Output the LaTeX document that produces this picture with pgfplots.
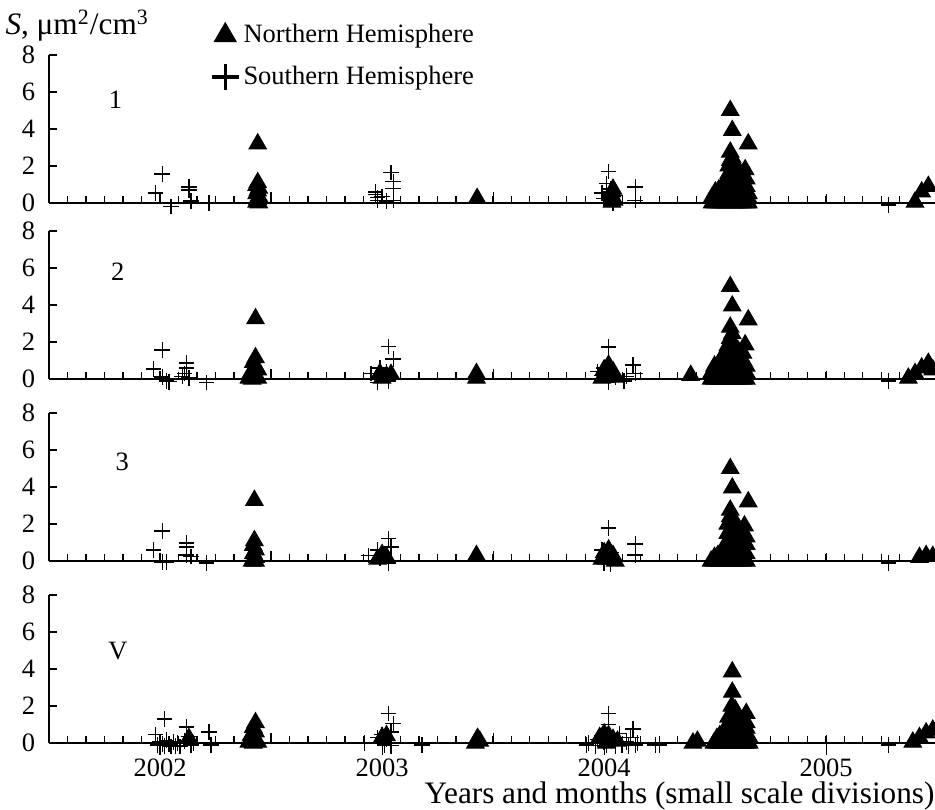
\documentclass[border=0pt]{standalone}
\usepackage{fontspec}
\setmainfont{Liberation Serif}
\usepackage{pgfplots}
\pgfplotsset{compat=1.18}
\newcommand{\tickfont}{\fontsize{10.6}{12.7}\selectfont}
\newcommand{\labfont}{\fontsize{12.5}{15}\selectfont}
\pgfplotsset{
 panel/.style={
  width=354.4pt, height=59.2pt, scale only axis,
  xmin=2001.5, xmax=2005.49, ymin=0, ymax=8,
  axis x line=bottom, axis y line=left,
  axis line style={-, line width=0.5pt},
  clip=false,
  xtick={2002,2003,2004,2005}, xticklabels={},
  minor xtick={2001.58333,2001.66667,...,2005.45},
  extra x ticks={2002.5,2003.5,2004.5}, extra x tick labels={},
  extra x tick style={major tick length=4.2pt},
  ytick={0,2,4,6,8},
  tick align=inside,
  major tick length=3.4pt, minor tick length=2.8pt,
  tick style={black, line width=0.45pt},
  yticklabel style={font=\tickfont, xshift=-2pt},
  xticklabel style={font=\tickfont, inner sep=0pt, yshift=-6pt},
  /pgf/number format/assume math mode=true,
 },
 nh/.style={only marks, mark=triangle*, mark size=4pt, black, forget plot},
 sh/.style={only marks, mark=+, mark size=3.1pt, black, line width=0.55pt, forget plot},
}
\begin{document}
\begin{tikzpicture}[x=1pt,y=1pt]
% ---------------- panel 1
\begin{axis}[panel, name=a1, at={(0pt,0pt)}, anchor=south west,
  legend style={at={(axis description cs:0,1)}, anchor=north west, xshift=62pt, yshift=18.4pt,
    draw=none, fill=none, font=\tickfont, nodes={inner ysep=3.9pt}},
  legend cell align=left]
\addplot[nh] coordinates {
(2002.44,3.2) (2002.44,1.1) (2002.435,0.95) (2002.445,0.8) (2002.44,0.65) (2002.435,0.5)
(2002.445,0.35) (2002.44,0.2) (2002.435,0.05) (2002.445,0.0)
(2003.428,0.25)
(2004.04,0.75) (2004.035,0.6) (2004.03,0.45) (2004.04,0.3) (2004.045,0.15) (2004.035,0.05)
(2004.486,0.0) (2004.486,0.3)
(2004.501,0.0) (2004.501,0.3) (2004.501,0.6)
(2004.516,0.0) (2004.516,0.35) (2004.516,0.7)
(2004.531,0.0) (2004.531,0.25) (2004.531,0.5)
(2004.546,0.0) (2004.546,0.4) (2004.546,0.8) (2004.546,1.2)
(2004.561,0.0) (2004.561,0.4) (2004.561,0.8) (2004.561,1.2) (2004.561,1.6) (2004.561,2.0)
(2004.568,2.3) (2004.568,2.75) (2004.568,5.0)
(2004.577,0.0) (2004.577,0.5) (2004.577,1.0) (2004.577,1.5) (2004.577,1.9) (2004.577,2.45) (2004.577,3.92)
(2004.590,0.0) (2004.590,0.4) (2004.590,0.8) (2004.590,1.2) (2004.590,1.6) (2004.590,2.1)
(2004.605,0.0) (2004.605,0.4) (2004.605,0.8) (2004.605,1.2) (2004.605,1.5)
(2004.622,0.0) (2004.622,0.5) (2004.622,1.0) (2004.622,1.4) (2004.635,1.8)
(2004.649,3.2)
(2004.640,0.0) (2004.640,0.4) (2004.640,0.9) (2004.640,1.3)
(2004.650,0.0) (2004.650,0.25) (2004.650,0.5)
(2005.40,0.05) (2005.43,0.6) (2005.46,0.9)
};
\addplot[sh] coordinates {
(2001.98,0.55) (2002.01,1.57) (2002.05,-0.2) (2002.13,0.86) (2002.13,0.70) (2002.14,0.1) (2002.22,0.0)
(2002.97,0.6) (2002.97,0.45) (2002.98,0.30) (2003.00,0.35) (2002.98,0.15)
(2003.04,1.65) (2003.05,1.15) (2003.05,0.80) (2003.05,0.15) (2003.02,0.1)
(2004.02,1.70) (2004.01,1.05) (2003.99,0.55) (2004.03,0.75) (2004.05,0.40) (2004.00,0.25) (2004.04,0.0)
(2004.14,0.86) (2004.14,0.15)
(2005.28,-0.1)
};
\addlegendimage{only marks, mark=triangle*, mark size=5pt, black}
\addlegendentry{Northern Hemisphere}
\addlegendimage{only marks, mark=+, mark size=5.3pt, black, line width=1.3pt, mark options={line width=1.3pt}}
\addlegendentry{Southern Hemisphere}
\node[font=\tickfont] at (axis cs:2001.80,5.57) {1};
\node[font=\labfont, anchor=base west, inner sep=0pt, xshift=-17.6pt, yshift=8pt] at (axis description cs:0,1)
  {\textit{S}, μm\textsuperscript{2}/cm\textsuperscript{3}};
\end{axis}
% ---------------- panel 2
\begin{axis}[panel, name=a2, at={(0pt,-70.4pt)}, anchor=south west]
\addplot[nh] coordinates {
(2002.43,3.26) (2002.43,1.15) (2002.42,0.9) (2002.43,0.7) (2002.44,0.5) (2002.41,0.35) (2002.43,0.25)
(2002.40,0.05) (2002.415,0.0) (2002.44,0.05)
(2002.99,0.3) (2003.02,0.15) (2003.04,0.25) (2003.00,0.05)
(2003.425,0.05) (2003.425,0.3)
(2004.00,0.5) (2004.02,0.75) (2004.04,0.4) (2004.01,0.2) (2004.05,0.1) (2003.99,0.05)
(2004.39,0.2)
(2004.482,0.0) (2004.482,0.3)
(2004.497,0.0) (2004.497,0.35) (2004.497,0.7)
(2004.512,0.0) (2004.512,0.3) (2004.512,0.6)
(2004.527,0.0) (2004.527,0.4) (2004.527,0.8)
(2004.542,0.0) (2004.542,0.5) (2004.542,1.0) (2004.542,1.4)
(2004.557,0.0) (2004.557,0.45) (2004.557,0.9) (2004.557,1.35) (2004.557,1.8)
(2004.568,2.2) (2004.568,2.8) (2004.568,5.0)
(2004.577,2.45) (2004.577,3.95)
(2004.575,0.0) (2004.575,0.5) (2004.575,1.0) (2004.575,1.5) (2004.575,2.0)
(2004.590,0.0) (2004.590,0.4) (2004.590,0.8) (2004.590,1.2) (2004.590,1.6)
(2004.605,0.0) (2004.605,0.4) (2004.605,0.8) (2004.605,1.2) (2004.605,1.5)
(2004.625,0.0) (2004.625,0.5) (2004.625,1.0) (2004.625,1.4) (2004.635,1.85)
(2004.649,3.2)
(2004.640,0.0) (2004.640,0.35) (2004.640,0.7)
(2005.37,0.05) (2005.40,0.3) (2005.43,0.6) (2005.46,0.85) (2005.48,0.5)
};
\addplot[sh] coordinates {
(2001.97,0.54) (2002.01,1.57) (2002.01,0.1) (2002.03,-0.1) (2002.04,-0.15)
(2002.12,0.86) (2002.12,0.6) (2002.11,0.3) (2002.10,0.15) (2002.13,0.05) (2002.21,-0.2)
(2002.95,0.3) (2002.99,0.6) (2003.03,1.75) (2003.05,1.08) (2003.02,0.4) (2003.00,0.2) (2002.98,-0.2) (2003.03,-0.1)
(2004.02,1.73) (2004.00,0.6) (2003.97,0.4) (2003.99,0.2) (2004.03,0.3) (2004.05,0.1)
(2004.13,0.76) (2004.14,0.3) (2004.10,0.15) (2004.02,-0.2) (2004.09,-0.1)
(2005.28,-0.1)
};
\node[font=\tickfont] at (axis cs:2001.81,5.78) {2};
\end{axis}
% ---------------- panel 3
\begin{axis}[panel, name=a3, at={(0pt,-143.2pt)}, anchor=south west]
\addplot[nh] coordinates {
(2002.425,3.28) (2002.425,1.1) (2002.42,0.85) (2002.43,0.6) (2002.42,0.4) (2002.43,0.2) (2002.42,0.05)
(2002.415,0.0) (2002.43,0.0)
(2003.00,0.35) (2003.02,0.2) (2002.98,0.1)
(2003.425,0.3)
(2004.00,0.45) (2004.02,0.6) (2004.04,0.3) (2004.01,0.1) (2004.05,0.0) (2003.99,0.1)
(2004.482,0.0)
(2004.497,0.0) (2004.497,0.2)
(2004.512,0.0) (2004.512,0.3)
(2004.527,0.0) (2004.527,0.45)
(2004.542,0.0) (2004.542,0.4) (2004.542,0.8)
(2004.557,0.0) (2004.557,0.5) (2004.557,1.0) (2004.557,1.5) (2004.557,2.0)
(2004.568,2.4) (2004.568,2.75) (2004.568,5.0)
(2004.577,0.0) (2004.577,0.5) (2004.577,1.0) (2004.577,1.5) (2004.577,2.0) (2004.577,3.95)
(2004.590,0.0) (2004.590,0.4) (2004.590,0.8) (2004.590,1.2) (2004.590,1.6) (2004.590,2.1)
(2004.605,0.0) (2004.605,0.4) (2004.605,0.8) (2004.605,1.3)
(2004.622,0.0) (2004.622,0.5) (2004.622,1.0) (2004.622,1.5) (2004.632,1.9)
(2004.649,3.2)
(2004.640,0.0) (2004.640,0.4) (2004.640,0.9) (2004.640,1.3)
(2005.42,0.2) (2005.45,0.3) (2005.48,0.25)
};
\addplot[sh] coordinates {
(2001.97,0.6) (2002.01,1.62) (2002.01,-0.05) (2002.03,-0.05)
(2002.12,0.97) (2002.12,0.76) (2002.12,0.32) (2002.14,0.25) (2002.21,-0.1)
(2002.94,0.3) (2002.98,0.6) (2003.03,1.2) (2003.04,0.76) (2003.01,0.35) (2002.99,0.15) (2003.03,-0.1)
(2004.02,1.78) (2003.99,0.6) (2004.03,0.45) (2004.01,0.25) (2004.14,0.92) (2004.14,0.32)
(2004.00,-0.1) (2004.03,-0.15)
(2005.28,-0.1)
};
\node[font=\tickfont] at (axis cs:2001.83,5.35) {3};
\end{axis}
% ---------------- panel 4
\begin{axis}[panel, name=a4, at={(0pt,-216pt)}, anchor=south west,
  xticklabels={2002,2003,2004,2005},
  xlabel={Years and months (small scale divisions)},
  xlabel style={at={(axis description cs:1,0)}, anchor=base east, inner sep=0pt, yshift=-24.2pt, font=\labfont}]
\addplot[nh] coordinates {
(2002.13,0.25)
(2002.43,1.1) (2002.42,0.85) (2002.43,0.6) (2002.41,0.4) (2002.43,0.2) (2002.40,0.05) (2002.42,0.0) (2002.44,0.05)
(2003.00,0.3) (2003.02,0.4)
(2003.42,0.0) (2003.44,0.1) (2003.43,0.25)
(2003.98,0.3) (2004.00,0.5) (2004.02,0.4) (2004.04,0.2) (2004.06,0.1) (2004.01,0.0)
(2004.40,0.0) (2004.42,0.1)
(2004.495,0.0)
(2004.508,0.0) (2004.508,0.25)
(2004.521,0.0) (2004.521,0.4)
(2004.534,0.0) (2004.534,0.5)
(2004.547,0.0) (2004.547,0.4) (2004.547,0.8)
(2004.560,0.0) (2004.560,0.5) (2004.560,1.0) (2004.560,1.4)
(2004.575,0.0) (2004.575,0.5) (2004.575,1.0) (2004.575,1.5) (2004.575,2.0) (2004.577,2.75) (2004.577,3.85)
(2004.590,0.0) (2004.590,0.45) (2004.590,0.9) (2004.590,1.35) (2004.590,1.8)
(2004.605,0.0) (2004.605,0.4) (2004.605,0.8) (2004.605,1.2)
(2004.625,0.0) (2004.625,0.4) (2004.625,0.8) (2004.625,1.2) (2004.640,1.6)
(2004.640,0.0) (2004.640,0.4) (2004.640,0.8) (2004.640,1.1)
(2004.653,0.0) (2004.653,0.3)
(2005.39,0.05) (2005.42,0.3) (2005.45,0.55) (2005.48,0.7)
};
\addplot[sh] coordinates {
(2002.02,1.3) (2001.98,0.45)
(2001.99,-0.1) (2002.00,0.05) (2002.01,-0.05) (2002.02,-0.15) (2002.03,0.15) (2002.04,-0.05) (2002.05,-0.2)
(2002.06,0.05) (2002.07,-0.15) (2002.08,0.0) (2002.09,-0.2)
(2002.12,0.86) (2002.13,0.35) (2002.11,0.1) (2002.14,-0.1) (2002.15,0.0)
(2002.22,0.6) (2002.23,-0.1)
(2002.92,0.0) (2002.98,0.3) (2003.00,0.45) (2003.03,1.6) (2003.05,1.05) (2003.04,0.6) (2003.02,0.2)
(2003.01,-0.1) (2003.04,-0.15) (2003.18,-0.1)
(2004.02,1.6) (2004.02,1.0) (2004.13,0.75)
(2003.92,-0.1) (2003.93,0.0) (2003.96,-0.15) (2003.97,0.2) (2003.99,0.4) (2004.00,0.05) (2004.01,-0.1)
(2004.04,0.3) (2004.05,-0.15) (2004.07,0.5) (2004.08,-0.1) (2004.10,0.05) (2004.11,-0.15) (2004.12,0.3)
(2004.14,-0.1) (2004.15,0.0) (2004.23,-0.1) (2004.25,-0.1)
(2005.28,-0.1)
};
\draw[line width=0.45pt] (axis cs:2002,0) -- ++(0pt,-4.8pt);
\draw[line width=0.45pt] (axis cs:2003,0) -- ++(0pt,-4.8pt);
\draw[line width=0.45pt] (axis cs:2004,0) -- ++(0pt,-4.8pt);
\draw[line width=0.45pt] (axis cs:2005,0) -- ++(0pt,-4.8pt);
\node[font=\tickfont] at (axis cs:2001.81,4.97) {V};
\end{axis}
\pgfresetboundingbox
\useasboundingbox (-19.6pt,-242.4pt) rectangle (354.4pt,81.2pt);
\end{tikzpicture}
\end{document}
